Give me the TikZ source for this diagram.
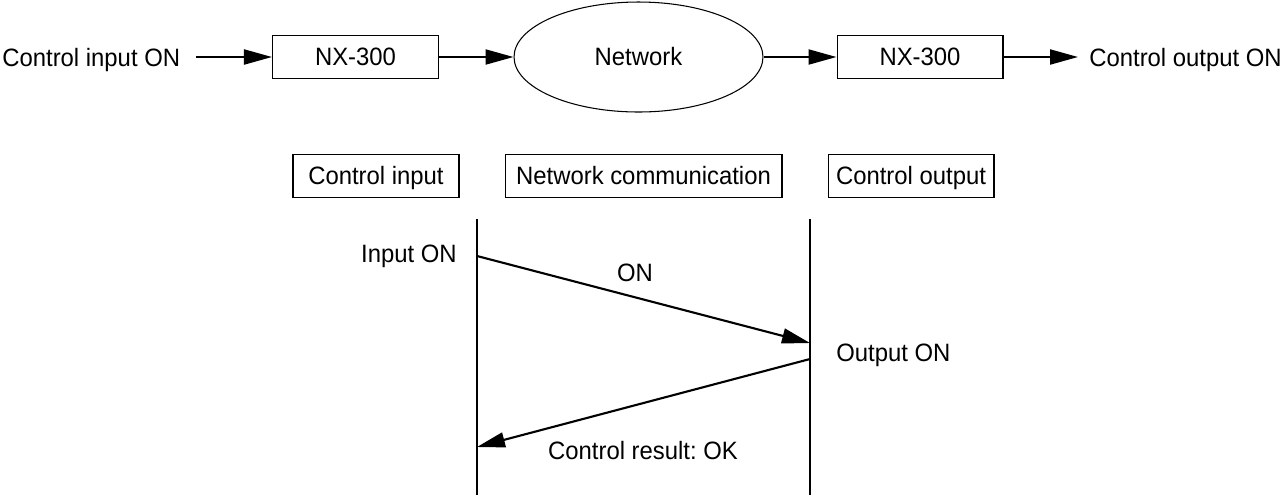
\documentclass[tikz,border=0pt]{standalone}
\usepackage{fontspec}
\setmainfont{Liberation Sans}[FakeStretch=0.95]
\usetikzlibrary{arrows.meta,shapes.geometric}
\frenchspacing

\tikzset{
  box/.style={draw,line width=0.6pt,minimum width=3.32cm,minimum height=0.86cm,
    inner sep=0pt,text height=10.2pt,text depth=0pt},
  lbl/.style={inner sep=0pt},
  arr/.style={line width=1.2pt,-{Triangle[length=0.56cm,width=0.3cm]}},
  life/.style={line width=1.1pt},
}

\begin{document}
\begin{tikzpicture}[x=0.02cm,y=-0.02cm,font=\fontsize{14.3}{17}\selectfont]
  \useasboundingbox (0,0) rectangle (1284,495);
  % top row
  \node[lbl,anchor=base west] (cin) at (2,66) {Control input ON};
  \node[box] (nx1) at (355.5,57) {NX-300};
  \node[draw,line width=0.6pt,ellipse,minimum width=4.98cm,minimum height=2.2cm,inner sep=0pt] (net) at (638.5,57) {Network};
  \node[box] (nx2) at (920,57) {NX-300};
  \node[lbl,anchor=base west] (cout) at (1089,66) {Control output ON};
  \draw[arr,shorten <=0.32cm] (cin.east |- nx1) -- (nx1);
  \draw[arr] (nx1) -- (net);
  \draw[arr] (net) -- (nx2);
  \draw[arr,shorten >=0.22cm] (nx2) -- (nx2 -| cout.west);
  % sequence
  \node[box] (inbox) at (376,176) {Control input};
  \node[box,minimum width=5.54cm] (netbox) at (643.5,176) {Network communication};
  \node[box] (outbox) at (911,176) {Control output};
  \coordinate (lt) at (477,219);
  \coordinate (lb) at (477,495);
  \coordinate (rt) at (810,219);
  \coordinate (rb) at (810,495);
  \draw[life] (lt) -- (lb);
  \draw[life] (rt) -- (rb);
  \coordinate (on1) at (477,256);
  \coordinate (on2) at (810,343);
  \coordinate (ok1) at (810,359);
  \coordinate (ok2) at (477,447);
  \draw[arr] (on1) -- (on2);
  \draw[arr] (ok1) -- (ok2);
  \node[lbl,anchor=base east] (inon) at (457,262) {Input ON};
  \node[lbl,anchor=base] (onlbl) at (635,281) {ON};
  \node[lbl,anchor=base west] (outon) at (836,361) {Output ON};
  \node[lbl,anchor=base] (reslbl) at (643,459) {Control result: OK};
\end{tikzpicture}
\end{document}
